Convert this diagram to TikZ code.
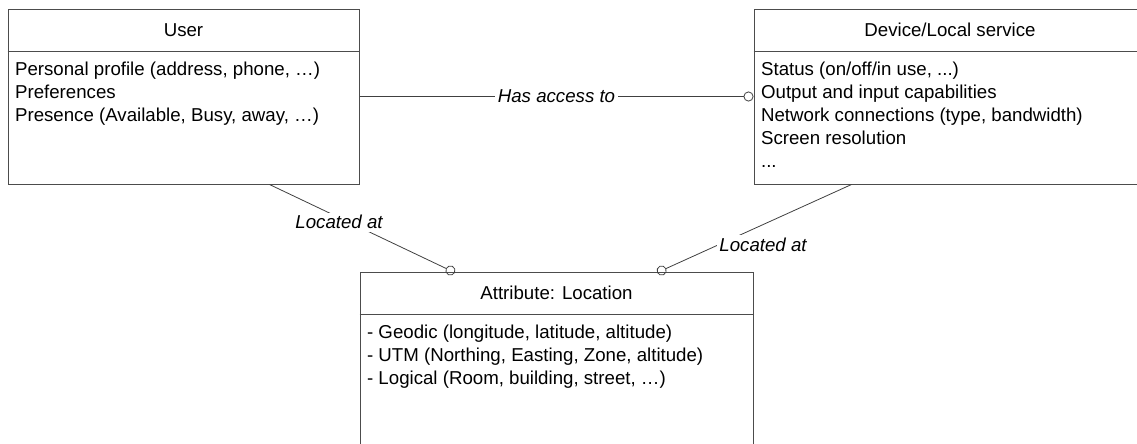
\documentclass[tikz,border=0pt]{standalone}
\usepackage{fontspec}
\setmainfont{Liberation Sans}
\usetikzlibrary{arrows.meta, positioning, calc, fit}

\tikzset{
  box/.style={draw=black!70, line width=0.75pt, inner sep=0pt},
  title/.style={minimum height=31.5pt, inner sep=0pt, font=\fontsize{14}{17.25}\selectfont},
  body/.style={align=left, inner xsep=5.5pt, inner ysep=8.25pt, font=\fontsize{14}{17.25}\selectfont},
  divider/.style={draw=black!70, line width=0.75pt},
  assoc/.style={draw=black!75, line width=0.6pt},
  lbl/.style={fill=white, inner sep=2pt, font=\fontsize{14}{17.25}\selectfont\itshape},
  oc/.tip={Circle[open, length=7.5pt, width=7.5pt]}
}

\begin{document}
\begin{tikzpicture}[x=0.75pt, y=-0.75pt]
  \useasboundingbox (0,0) rectangle (1137,443);

  % user class
  \node[box, fit={(8,9) (359,184)}] (user) {};
  \node[title, below=0pt of user.north] (user-t) {User};
  \draw[divider] (user-t.south -| user.west) -- (user-t.south -| user.east);
  \node[body, anchor=north west] (user-b) at (user-t.south -| user.west)
    {Personal profile (address, phone, \dots)\\Preferences\\Presence (Available, Busy, away, \dots)};

  % device class
  \node[box, fit={(754,9) (1146,184)}] (device) {};
  \node[title, below=0pt of device.north] (device-t) {Device/Local service};
  \draw[divider] (device-t.south -| device.west) -- (device-t.south -| device.east);
  \node[body, anchor=north west] (device-b) at (device-t.south -| device.west)
    {Status (on/off/in use, ...)\\Output and input capabilities\\Network connections (type, bandwidth)\\Screen resolution\\...};

  % location class
  \node[box, fit={(360,272) (753,460)}] (loc) {};
  \node[title, below=0pt of loc.north] (loc-t) {Attribute: Location};
  \draw[divider] (loc-t.south -| loc.west) -- (loc-t.south -| loc.east);
  \node[body, anchor=north west] (loc-b) at (loc-t.south -| loc.west)
    {- Geodic (longitude, latitude, altitude)\\- UTM (Northing, Easting, Zone, altitude)\\- Logical (Room, building, street, \dots)};

  % associations
  \draw[assoc, -{oc}] (user) -- node[lbl] {Has access to} (device);
  \draw[assoc, -{oc}, shorten >=-2pt] ($(user.south west)+(262,0)$)
    -- node[lbl, pos=0.38, yshift=-3.5pt] {Located at} ($(loc.north west)+(93,0)$);
  \draw[assoc, -{oc}, shorten >=-2pt] ($(device.south west)+(98,0)$)
    -- node[lbl, pos=0.69, anchor=west, xshift=-2pt] {Located at} ($(loc.north west)+(300,0)$);
\end{tikzpicture}
\end{document}
